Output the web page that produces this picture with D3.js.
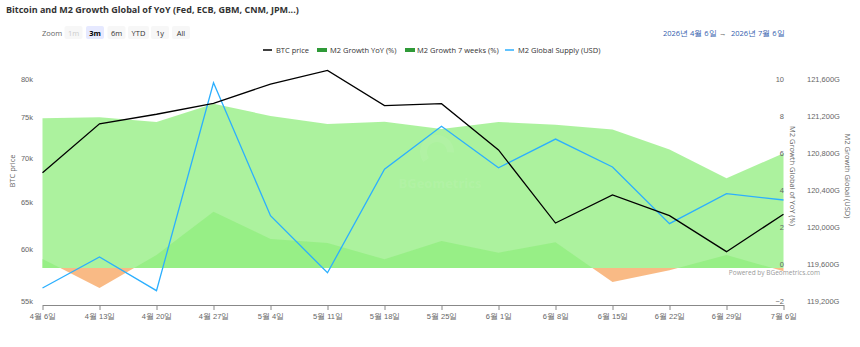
<!DOCTYPE html>
<html lang="en">
<head>
    <meta charset="UTF-8">
    <title>Bitcoin and M2 Growth Global of YoY</title>
    <script src="https://d3js.org/d3.v7.min.js"></script>
    <style>
        body { margin: 0; background: #fff; }
        svg { font-family: "Open Sans", sans-serif; }
        .tick text { font-size: 7.5px; }
    </style>
</head>
<body>
    <div id="chart"></div>

    <script>
        // weekly points, 4/6 -> 7/6
        var dates = ["2026-04-06", "2026-04-13", "2026-04-20", "2026-04-27", "2026-05-04", "2026-05-11", "2026-05-18",
                     "2026-05-25", "2026-06-01", "2026-06-08", "2026-06-15", "2026-06-22", "2026-06-29", "2026-07-06"];
        var tickLabels = ["4월 6일", "4월 13일", "4월 20일", "4월 27일", "5월 4일", "5월 11일", "5월 18일",
                          "5월 25일", "6월 1일", "6월 8일", "6월 15일", "6월 22일", "6월 29일", "7월 6일"];

        var btcPrice = [68760, 74680, 75890, 77300, 79860, 81730, 77000, 77250, 71450, 63160, 66220, 63950, 60180, 64100];
        var m2YoY = [8.09, 8.15, 7.89, 8.88, 8.22, 7.78, 7.91, 7.51, 7.89, 7.75, 7.48, 6.41, 4.85, 6.2];
        var m2Weeks7 = [0.49, -1.08, 0.7, 3.04, 1.57, 1.35, 0.47, 1.46, 0.83, 1.39, -0.76, -0.12, 0.7, -0.17];
        var m2Supply = [119384, 119719, 119355, 121603, 120165, 119549, 120667, 121132, 120684, 120994, 120692, 120079, 120403, 120335];

        var btcTicks = [55000, 60000, 65000, 70000, 75000, 80000];
        var pctTicks = [-2, 0, 2, 4, 6, 8, 10];
        var usdTicks = [119200, 119600, 120000, 120400, 120800, 121200, 121600];

        var width = 860, height = 347;
        var plotLeft = 42.5, plotRight = 783.5, plotTop = 83, plotBottom = 305;

        var parse = d3.timeParse("%Y-%m-%d");
        var days = dates.map(parse);

        var x = d3.scaleTime().domain(d3.extent(days)).range([plotLeft, plotRight]);
        var yBtc = d3.scaleLog().domain([55000, 80000]).range([plotBottom, plotTop]);
        var yPct = d3.scaleLinear().domain([-2, 10]).range([plotBottom, plotTop]);
        var yUsd = d3.scaleLinear().domain([119200, 121600]).range([plotBottom, plotTop]);

        var svg = d3.select("#chart").append("svg")
            .attr("width", width)
            .attr("height", height);

        // title
        svg.append("text")
            .attr("x", 6).attr("y", 13)
            .attr("font-size", "9px").attr("font-weight", "bold").attr("fill", "#333")
            .text("Bitcoin and M2 Growth Global of YoY (Fed, ECB, GBM, CNM, JPM...)");

        // range selector
        svg.append("text").attr("x", 42).attr("y", 36)
            .attr("font-size", "7.5px").attr("fill", "#666").text("Zoom");
        var buttons = [["1m", 73.5], ["3m", 95], ["6m", 116.5], ["YTD", 138.5], ["1y", 160], ["All", 181]];
        buttons.forEach(function(b, i) {
            var w = b[0] == "YTD" ? 21 : 18;
            svg.append("rect")
                .attr("x", b[1] - w / 2).attr("y", 26).attr("width", w).attr("height", 13).attr("rx", 2)
                .attr("fill", i == 1 ? "#e6e9ff" : "#f7f7f7");
            svg.append("text")
                .attr("x", b[1]).attr("y", 36).attr("text-anchor", "middle")
                .attr("font-size", "7.5px")
                .attr("font-weight", i == 1 ? "bold" : "normal")
                .attr("fill", i == 0 ? "#ccc" : (i == 1 ? "#000" : "#333"))
                .text(b[0]);
        });

        var rangeText = svg.append("text").attr("y", 36).attr("font-size", "7.5px").attr("fill", "#335cad");
        rangeText.append("tspan").attr("x", 663).text("2026년 4월 6일");
        rangeText.append("tspan").attr("x", 719).attr("fill", "#666").text("→");
        rangeText.append("tspan").attr("x", 731).text("2026년 7월 6일");

        // legend
        var legend = svg.append("g").attr("font-size", "7.5px").attr("fill", "#333");
        legend.append("line").attr("x1", 263).attr("x2", 272).attr("y1", 50).attr("y2", 50)
            .attr("stroke", "#000").attr("stroke-width", 1.5);
        legend.append("text").attr("x", 276).attr("y", 52.5).text("BTC price");
        legend.append("rect").attr("x", 317).attr("y", 48).attr("width", 10).attr("height", 4).attr("fill", "#2f9a38");
        legend.append("text").attr("x", 330).attr("y", 52.5).text("M2 Growth YoY (%)");
        legend.append("rect").attr("x", 405).attr("y", 48).attr("width", 10).attr("height", 4).attr("fill", "#2f9a38");
        legend.append("text").attr("x", 417).attr("y", 52.5).text("M2 Growth 7 weeks (%)");
        legend.append("line").attr("x1", 505).attr("x2", 514).attr("y1", 50).attr("y2", 50)
            .attr("stroke", "#2caffe").attr("stroke-width", 1.5);
        legend.append("text").attr("x", 518).attr("y", 52.5).text("M2 Global Supply (USD)");

        // clip for threshold colouring of the 7 weeks area
        var defs = svg.append("defs");
        defs.append("clipPath").attr("id", "above")
            .append("rect").attr("x", 0).attr("y", 0).attr("width", width).attr("height", yPct(0));
        defs.append("clipPath").attr("id", "below")
            .append("rect").attr("x", 0).attr("y", yPct(0)).attr("width", width).attr("height", height);

        var area = d3.area()
            .x(function(d, i) { return x(days[i]); })
            .y0(yPct(0))
            .y1(function(d) { return yPct(d); });

        svg.append("path").attr("d", area(m2YoY))
            .attr("fill", "#90ed7d").attr("fill-opacity", 0.75);

        svg.append("path").attr("d", area(m2Weeks7)).attr("clip-path", "url(#above)")
            .attr("fill", "#90ed7d").attr("fill-opacity", 0.75);
        svg.append("path").attr("d", area(m2Weeks7)).attr("clip-path", "url(#below)")
            .attr("fill", "#f7a35c").attr("fill-opacity", 0.75);

        // watermark
        svg.append("path")
            .attr("d", d3.arc()({ innerRadius: 10, outerRadius: 17, startAngle: -2.2, endAngle: 1.6 }))
            .attr("transform", "translate(437,152)")
            .attr("fill", "#ffffff").attr("fill-opacity", 0.07);
        svg.append("text")
            .attr("x", 440).attr("y", 188).attr("text-anchor", "middle")
            .attr("font-size", "13px").attr("font-weight", "bold")
            .attr("fill", "#ffffff").attr("fill-opacity", 0.08)
            .text("BGeometrics");

        // lines
        var lineBtc = d3.line()
            .x(function(d, i) { return x(days[i]); })
            .y(function(d) { return yBtc(d); });
        var lineUsd = d3.line()
            .x(function(d, i) { return x(days[i]); })
            .y(function(d) { return yUsd(d); });

        svg.append("path").attr("d", lineUsd(m2Supply))
            .attr("fill", "none").attr("stroke", "#2caffe").attr("stroke-width", 1.3);
        svg.append("path").attr("d", lineBtc(btcPrice))
            .attr("fill", "none").attr("stroke", "#000").attr("stroke-width", 1.3);

        // x axis
        var xAxis = svg.append("g")
            .attr("transform", "translate(0," + plotBottom + ")")
            .call(d3.axisBottom(x)
                .tickValues(days)
                .tickSize(5)
                .tickSizeOuter(0)
                .tickPadding(4)
                .tickFormat(function(d, i) { return tickLabels[i]; }));
        xAxis.selectAll("path, line").attr("stroke", "#888");

        // y axes
        var ax1 = svg.append("g").attr("transform", "translate(33,-4)")
            .call(d3.axisLeft(yBtc).tickValues(btcTicks).tickSize(0).tickPadding(0)
                .tickFormat(function(d) { return d / 1000 + "k"; }));
        var ax2 = svg.append("g").attr("transform", "translate(784,-4)")
            .call(d3.axisLeft(yPct).tickValues(pctTicks).tickSize(0).tickPadding(0));
        var ax3 = svg.append("g").attr("transform", "translate(807,-4)")
            .call(d3.axisRight(yUsd).tickValues(usdTicks).tickSize(0).tickPadding(0)
                .tickFormat(function(d) { return d3.format(",")(d) + "G"; }));
        [ax1, ax2, ax3].forEach(function(a) { a.select(".domain").remove(); });
        svg.selectAll(".tick text").attr("fill", "#666");

        // axis titles
        svg.append("text")
            .attr("transform", "translate(15,171) rotate(-90)")
            .attr("text-anchor", "middle").attr("font-size", "7.5px").attr("fill", "#666")
            .text("BTC price");
        svg.append("text")
            .attr("transform", "translate(790,176) rotate(90)")
            .attr("text-anchor", "middle").attr("font-size", "7.5px").attr("fill", "#666")
            .text("M2 Growth Global of YoY (%)");
        svg.append("text")
            .attr("transform", "translate(845,176) rotate(90)")
            .attr("text-anchor", "middle").attr("font-size", "7.5px").attr("fill", "#666")
            .text("M2 Growth Global (USD)");

        // credits
        svg.append("text")
            .attr("x", 820).attr("y", 275).attr("text-anchor", "end")
            .attr("font-size", "6.5px").attr("fill", "#999")
            .text("Powered by BGeometrics.com");
    </script>
</body>
</html>
